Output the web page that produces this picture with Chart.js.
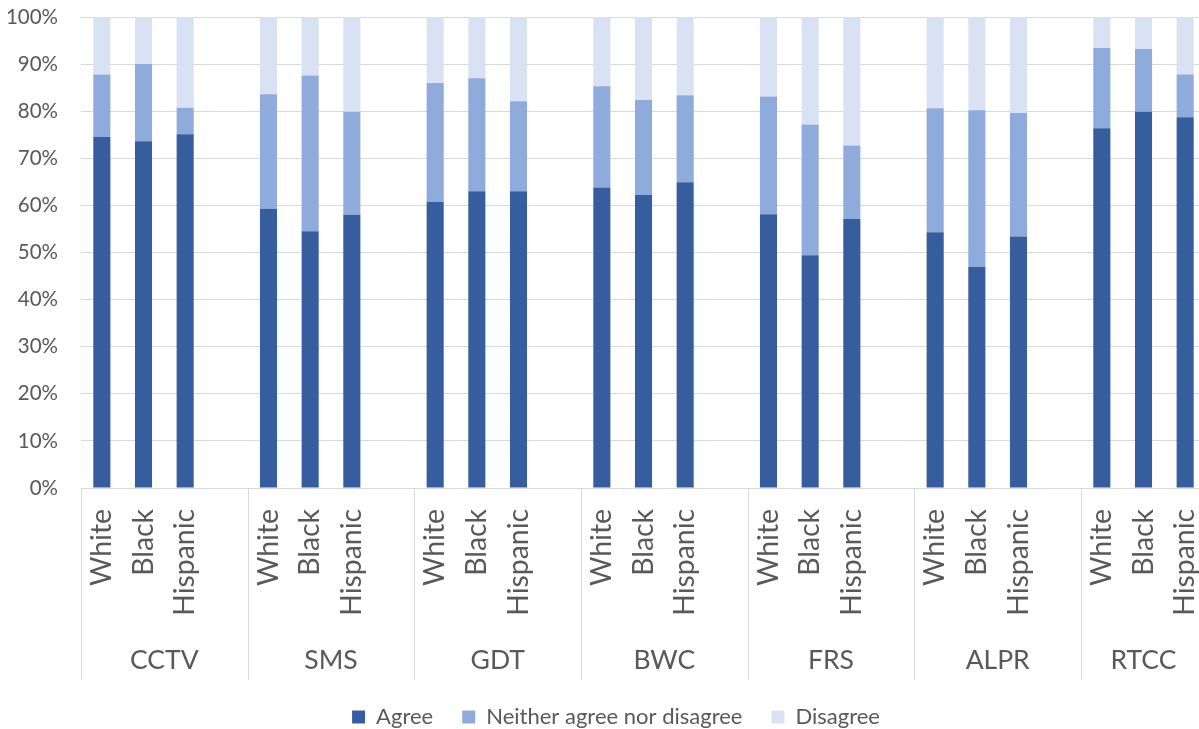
<!DOCTYPE html>
<html>
<head>
<meta charset="utf-8">
<script src="https://cdn.jsdelivr.net/npm/chart.js@4/dist/chart.umd.min.js"></script>
<style>
  html, body { margin: 0; padding: 0; overflow: hidden; background: #fff; }
  canvas { display: block; }
</style>
</head>
<body>
<canvas id="c" width="1232" height="738"></canvas>
<script>
// Technologies and respondent groups
const groups = ['CCTV', 'SMS', 'GDT', 'BWC', 'FRS', 'ALPR', 'RTCC'];
const races = ['White', 'Black', 'Hispanic'];

// Share of respondents (%) per technology, in race order White, Black, Hispanic
const agree    = [74.5, 73.6, 75.1,  59.3, 54.5, 58.0,  60.7, 63.0, 63.0,  63.8, 62.2, 64.9,  58.1, 49.4, 57.1,  54.3, 46.9, 53.4,  76.4, 79.9, 78.7];
const neither  = [13.3, 16.4,  5.6,  24.3, 33.1, 21.9,  25.3, 24.0, 19.1,  21.5, 20.2, 18.5,  25.0, 27.8, 15.6,  26.3, 33.3, 26.2,  17.0, 13.3,  9.1];
const disagree = [12.2, 10.0, 19.3,  16.4, 12.4, 20.1,  14.0, 13.0, 17.9,  14.7, 17.6, 16.6,  16.9, 22.8, 27.3,  19.4, 19.8, 20.4,   6.6,  6.8, 12.2];

const yTicks = [0, 10, 20, 30, 40, 50, 60, 70, 80, 90, 100];

// One slot per bar, with an empty slot between technologies
const slotLabels = [];
const slotOf = [];
groups.forEach((g, gi) => {
  races.forEach(r => { slotOf.push(slotLabels.length); slotLabels.push(r); });
  if (gi < groups.length - 1) slotLabels.push('');
});
const spread = vals => {
  const out = slotLabels.map(() => null);
  vals.forEach((v, i) => { out[slotOf[i]] = v; });
  return out;
};

// Group boundaries (in slot units) and group label positions
const bounds = groups.map((g, gi) => slotOf[gi * races.length] - 0.5);
bounds.push(slotLabels.length - 0.5);
const groupCenters = groups.map((g, gi) => (bounds[gi] + bounds[gi + 1]) / 2);

const TEXT = '#595959';
const GRID = '#D9D9D9';
const FONT = 'Lato';

const noPadding = s => { s.paddingTop = 0; s.paddingBottom = 0; s.paddingLeft = 0; s.paddingRight = 0; };

// Vertical dividers between technology groups, below the plot
const groupDividers = {
  id: 'groupDividers',
  afterDraw(chart) {
    const x = chart.scales.x;
    const g = chart.scales.g;
    const ctx = chart.ctx;
    ctx.save();
    ctx.strokeStyle = GRID;
    ctx.lineWidth = 1;
    bounds.forEach(b => {
      const px = Math.round(x.getPixelForValue(b)) + 0.5;
      ctx.beginPath();
      ctx.moveTo(px, chart.chartArea.bottom);
      ctx.lineTo(px, g.bottom + 3);
      ctx.stroke();
    });
    ctx.restore();
  }
};

new Chart(document.getElementById('c'), {
  type: 'bar',
  data: {
    labels: slotLabels,
    datasets: [
      { label: 'Agree', data: spread(agree), backgroundColor: '#365E9E' },
      { label: 'Neither agree nor disagree', data: spread(neither), backgroundColor: '#8FABDC' },
      { label: 'Disagree', data: spread(disagree), backgroundColor: '#D9E2F3' }
    ]
  },
  options: {
    responsive: false,
    animation: false,
    devicePixelRatio: 1,
    layout: { padding: { top: 17, bottom: 0, left: 0, right: 0 } },
    datasets: { bar: { categoryPercentage: 1, barPercentage: 0.41, borderWidth: 0 } },
    plugins: {
      tooltip: { enabled: false },
      legend: {
        position: 'bottom',
        labels: {
          color: TEXT,
          font: { family: FONT, size: 22 },
          boxWidth: 13,
          boxHeight: 13,
          padding: 29
        }
      }
    },
    scales: {
      x: {
        stacked: true,
        weight: 0,
        grid: { display: false, drawOnChartArea: false, drawTicks: false },
        border: { display: true, color: GRID, width: 1 },
        ticks: {
          autoSkip: false,
          minRotation: 90,
          maxRotation: 90,
          padding: 21,
          color: TEXT,
          font: { family: FONT, size: 28.4 }
        },
        afterFit(s) { s.height = 130; noPadding(s); }
      },
      g: {
        type: 'linear',
        position: 'bottom',
        weight: 1,
        offset: false,
        min: -0.5,
        max: slotLabels.length - 0.5,
        grid: { display: false, offset: false, drawTicks: false },
        border: { display: false },
        afterBuildTicks(s) { s.ticks = groupCenters.map(v => ({ value: v })); },
        ticks: {
          autoSkip: false,
          maxRotation: 0,
          padding: 27,
          color: TEXT,
          font: { family: FONT, size: 26.5 },
          callback: (v, i) => groups[i]
        },
        afterFit(s) { s.height = 59; noPadding(s); }
      },
      y: {
        stacked: true,
        min: 0,
        max: 100,
        grid: { color: GRID, lineWidth: 1, drawTicks: false },
        border: { display: false },
        afterBuildTicks(s) { s.ticks = yTicks.map(v => ({ value: v })); },
        ticks: {
          padding: 23,
          color: TEXT,
          font: { family: FONT, size: 20.5 },
          callback: v => v + '%'
        },
        afterFit(s) { s.width = 81; noPadding(s); }
      },
      yRight: {
        position: 'right',
        display: true,
        grid: { display: false },
        border: { display: false },
        ticks: { display: false },
        afterFit(s) { s.width = 26; noPadding(s); }
      }
    }
  },
  plugins: [groupDividers]
});
</script>
</body>
</html>
